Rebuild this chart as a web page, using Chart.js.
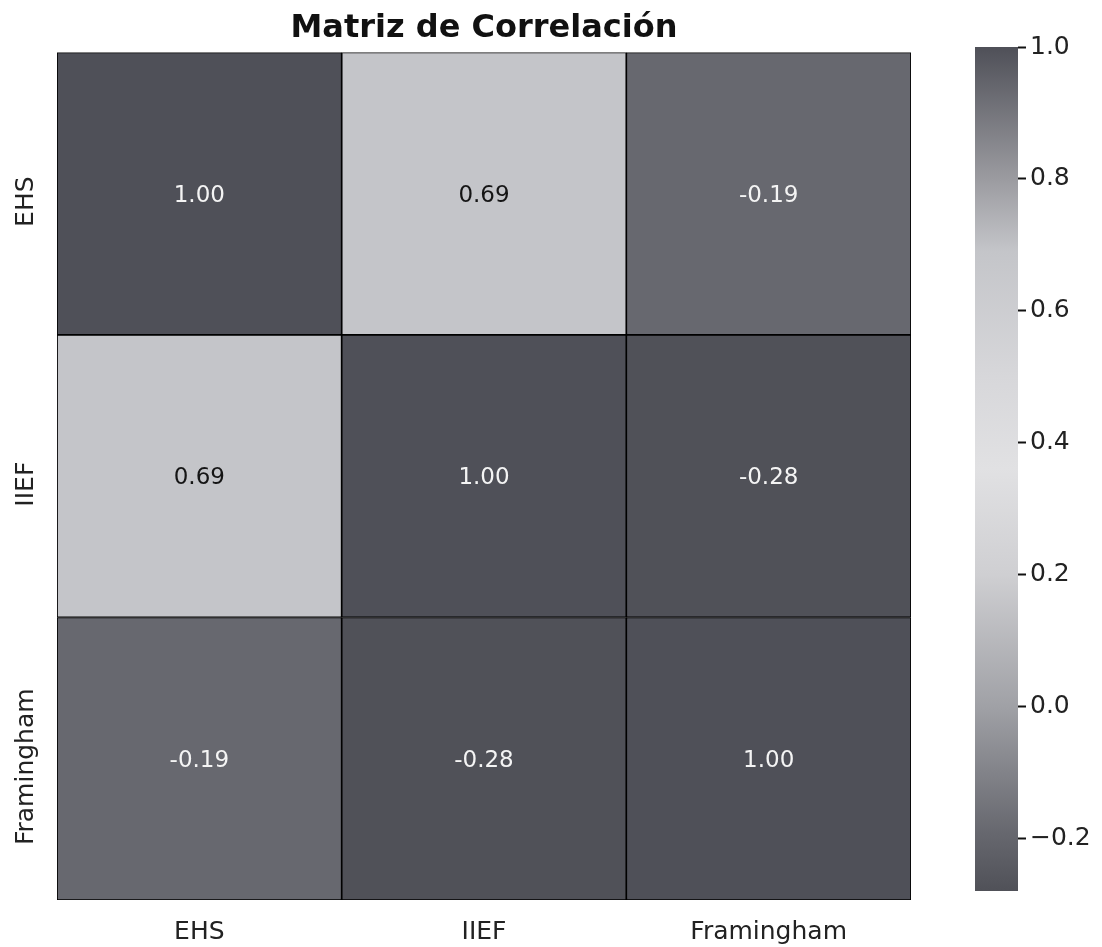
<!DOCTYPE html>
<html>
<head>
<meta charset="utf-8">
<title>Matriz de Correlación</title>
<script src="https://cdn.jsdelivr.net/npm/chart.js@4.4.1/dist/chart.umd.min.js"></script>
<style>
  html, body { margin: 0; padding: 0; background: #ffffff; }
  #wrap { position: relative; width: 1102px; height: 947px; overflow: hidden; }
  #heat { position: absolute; left: 0; top: 0; width: 940px; height: 947px; }
  #cbar { position: absolute; left: 940px; top: 0; width: 162px; height: 947px; }
</style>
</head>
<body>
<div id="wrap">
  <canvas id="heat" width="940" height="947"></canvas>
  <canvas id="cbar" width="162" height="947"></canvas>
</div>
<script>
// Variables compared in the matrix (columns left to right, rows top to bottom)
const variables = ['EHS', 'IIEF', 'Framingham'];

// Correlation coefficients, one array per row
const corrEHS        = [1.00, 0.69, -0.19];
const corrIIEF       = [0.69, 1.00, -0.28];
const corrFramingham = [-0.19, -0.28, 1.00];
const corrRows = [corrEHS, corrIIEF, corrFramingham];

// Colour scale limits and colour-bar tick values
const scaleMin = -0.28;
const scaleMax = 1.0;
const colorbarTicks = [-0.2, 0.0, 0.2, 0.4, 0.6, 0.8, 1.0];

const FONT = '"DejaVu Sans", "Liberation Sans", sans-serif';

// Diverging grey ramp (dark at both ends, light near the middle)
const rampStops = [
  [-0.28, [80, 81, 88]],
  [-0.19, [103, 104, 111]],
  [0.00, [160, 161, 166]],
  [0.20, [207, 207, 210]],
  [0.36, [225, 225, 227]],
  [0.50, [215, 215, 218]],
  [0.69, [196, 197, 201]],
  [0.80, [155, 155, 160]],
  [1.00, [79, 80, 88]]
];

function rampRGB(v) {
  if (v <= rampStops[0][0]) return rampStops[0][1];
  for (let i = 1; i < rampStops.length; i++) {
    const [v1, c1] = rampStops[i];
    const [v0, c0] = rampStops[i - 1];
    if (v <= v1) {
      const t = (v - v0) / (v1 - v0);
      return c0.map((c, k) => Math.round(c + (c1[k] - c) * t));
    }
  }
  return rampStops[rampStops.length - 1][1];
}
const rgbStr = c => `rgb(${c[0]},${c[1]},${c[2]})`;
const lum = c => 0.299 * c[0] + 0.587 * c[1] + 0.114 * c[2];

// One floating-bar dataset per matrix row; each bar spans [row, row + 1]
const heatDatasets = corrRows.map((row, r) => ({
  label: variables[r],
  data: row.map(() => [r, r + 1]),
  backgroundColor: row.map(v => rgbStr(rampRGB(v))),
  borderColor: '#000000',
  borderWidth: 1.2,
  borderSkipped: false,
  barPercentage: 1,
  categoryPercentage: 1,
  grouped: false
}));

// Writes the coefficient in the middle of every cell
const cellLabels = {
  id: 'cellLabels',
  afterDatasetsDraw(chart) {
    const ctx = chart.ctx;
    ctx.save();
    ctx.font = `23px ${FONT}`;
    ctx.textAlign = 'center';
    ctx.textBaseline = 'middle';
    corrRows.forEach((row, r) => {
      chart.getDatasetMeta(r).data.forEach((bar, c) => {
        const v = row[c];
        const p = bar.getCenterPoint();
        ctx.fillStyle = lum(rampRGB(v)) > 150 ? '#151515' : '#f4f4f4';
        ctx.fillText(v.toFixed(2), p.x, p.y + 2);
      });
    });
    ctx.restore();
  }
};

// Vertical row names placed at the centre of each row on the y scale
const rowLabels = {
  id: 'rowLabels',
  afterDraw(chart) {
    const ctx = chart.ctx;
    const ys = chart.scales.y;
    ctx.save();
    ctx.font = `25px ${FONT}`;
    ctx.fillStyle = '#222222';
    ctx.textAlign = 'center';
    ctx.textBaseline = 'middle';
    variables.forEach((name, r) => {
      const y = ys.getPixelForValue(r + 0.5);
      ctx.save();
      ctx.translate(26, y + 8);
      ctx.rotate(-Math.PI / 2);
      ctx.fillText(name, 0, 0);
      ctx.restore();
    });
    ctx.restore();
  }
};

new Chart(document.getElementById('heat'), {
  type: 'bar',
  data: { labels: variables, datasets: heatDatasets },
  plugins: [cellLabels, rowLabels],
  options: {
    responsive: false,
    animation: false,
    events: [],
    layout: { padding: { left: 0, right: 29, top: 0, bottom: 0 } },
    plugins: {
      legend: { display: false },
      tooltip: { enabled: false },
      title: {
        display: true,
        fullSize: false,
        text: 'Matriz de Correlación',
        color: '#111111',
        font: { family: FONT, size: 32, weight: 'bold' },
        padding: { top: 9, bottom: 5 }
      }
    },
    scales: {
      x: {
        type: 'category',
        grid: { display: false, drawTicks: false },
        border: { display: false },
        ticks: { color: '#222222', font: { family: FONT, size: 25 }, padding: 17 },
        afterFit(s) { s.height = 47; }
      },
      y: {
        type: 'linear',
        min: 0,
        max: 3,
        reverse: true,
        grid: { display: false, drawTicks: false },
        border: { display: false },
        ticks: { display: false },
        afterFit(s) { s.width = 57; }
      }
    }
  }
});

// Colour bar: a single floating bar from scaleMin to scaleMax filled with the ramp
function colorbarFill(context) {
  const chart = context.chart;
  const ys = chart.scales.y;
  if (!chart.chartArea || !ys) return '#cccccc';
  const g = chart.ctx.createLinearGradient(0, ys.getPixelForValue(scaleMin), 0, ys.getPixelForValue(scaleMax));
  rampStops.forEach(([v, c]) => {
    g.addColorStop((v - scaleMin) / (scaleMax - scaleMin), rgbStr(c));
  });
  return g;
}

new Chart(document.getElementById('cbar'), {
  type: 'bar',
  data: {
    labels: [''],
    datasets: [{
      data: [[scaleMin, scaleMax]],
      backgroundColor: colorbarFill,
      borderWidth: 0,
      barPercentage: 1,
      categoryPercentage: 1
    }]
  },
  options: {
    responsive: false,
    animation: false,
    events: [],
    layout: { padding: { left: 35, right: 0, top: 47, bottom: 56 } },
    plugins: { legend: { display: false }, tooltip: { enabled: false } },
    scales: {
      x: { display: false },
      y: {
        position: 'right',
        min: scaleMin,
        max: scaleMax,
        afterBuildTicks(s) { s.ticks = colorbarTicks.map(v => ({ value: v })); },
        grid: { drawOnChartArea: false, drawTicks: true, tickLength: 8, tickColor: '#111111', tickWidth: 2 },
        border: { display: false },
        ticks: {
          color: '#222222',
          font: { family: FONT, size: 25 },
          padding: 4,
          callback: v => (v < 0 ? '\u2212' : '') + Math.abs(v).toFixed(1)
        },
        afterFit(s) { s.width = 84; }
      }
    }
  }
});
</script>
</body>
</html>
